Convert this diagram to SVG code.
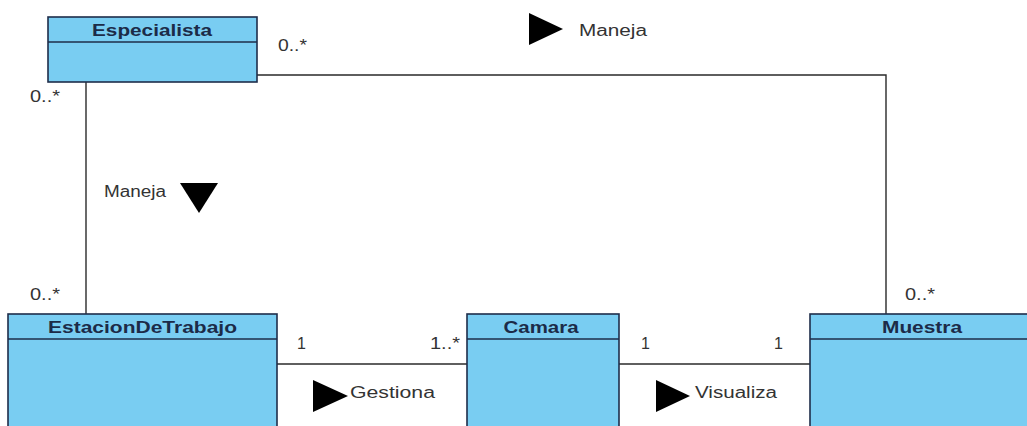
<svg xmlns="http://www.w3.org/2000/svg" width="1027" height="426" viewBox="0 0 1027 426">
  <style>
    .box { fill: #79cdf2; stroke: #1e2d4a; stroke-width: 1.6; }
    .div { stroke: #1e2d4a; stroke-width: 1.6; fill: none; }
    .name { font-family: "Liberation Sans", Arial, sans-serif; font-size: 17px; font-weight: bold; fill: #1c2b48; text-anchor: middle; }
    .lbl { font-family: "Liberation Sans", Arial, sans-serif; font-size: 16px; fill: #333333; }
    .conn { stroke: #2a2a2a; stroke-width: 1.4; fill: none; }
    .dir { fill: #000000; }
  </style>
  <rect width="1027" height="426" fill="#ffffff"/>

  <!-- associations -->
  <g id="connectors">
    <polyline class="conn" points="257,75 886,75 886,314"/>
    <line class="conn" x1="86" y1="82" x2="86" y2="314"/>
    <line class="conn" x1="277" y1="364" x2="467" y2="364"/>
    <line class="conn" x1="619" y1="364" x2="810" y2="364"/>

    <!-- Especialista - Muestra -->
    <text class="lbl" x="278" y="51" textLength="29" lengthAdjust="spacingAndGlyphs">0..*</text>
    <text class="lbl" x="905" y="300" textLength="30" lengthAdjust="spacingAndGlyphs">0..*</text>
    <polygon class="dir" points="529,13 563,29 529,45"/>
    <text class="lbl" x="579" y="36" textLength="68" lengthAdjust="spacingAndGlyphs">Maneja</text>

    <!-- Especialista - EstacionDeTrabajo -->
    <text class="lbl" x="30" y="102" textLength="30" lengthAdjust="spacingAndGlyphs">0..*</text>
    <text class="lbl" x="30" y="300" textLength="30" lengthAdjust="spacingAndGlyphs">0..*</text>
    <text class="lbl" x="104" y="197" textLength="62" lengthAdjust="spacingAndGlyphs">Maneja</text>
    <polygon class="dir" points="180,183 218,183 199,213"/>

    <!-- EstacionDeTrabajo - Camara -->
    <text class="lbl" x="297" y="349">1</text>
    <text class="lbl" x="430" y="349" textLength="30" lengthAdjust="spacingAndGlyphs">1..*</text>
    <polygon class="dir" points="313,380 348,396 313,412"/>
    <text class="lbl" x="350" y="398" textLength="85" lengthAdjust="spacingAndGlyphs">Gestiona</text>

    <!-- Camara - Muestra -->
    <text class="lbl" x="641" y="349">1</text>
    <text class="lbl" x="774" y="349">1</text>
    <polygon class="dir" points="656,380 690,396 656,412"/>
    <text class="lbl" x="695" y="398" textLength="82" lengthAdjust="spacingAndGlyphs">Visualiza</text>
  </g>

  <g id="especialista">
    <rect class="box" x="48" y="17" width="209" height="65"/>
    <line class="div" x1="48" y1="42" x2="257" y2="42"/>
    <text class="name" x="152" y="36" textLength="120" lengthAdjust="spacingAndGlyphs">Especialista</text>
  </g>

  <g id="estacion-de-trabajo">
    <rect class="box" x="8" y="314" width="269" height="130"/>
    <line class="div" x1="8" y1="339" x2="277" y2="339"/>
    <text class="name" x="142.5" y="333" textLength="189" lengthAdjust="spacingAndGlyphs">EstacionDeTrabajo</text>
  </g>

  <g id="camara">
    <rect class="box" x="467" y="314" width="152" height="130"/>
    <line class="div" x1="467" y1="339" x2="619" y2="339"/>
    <text class="name" x="541" y="333" textLength="75" lengthAdjust="spacingAndGlyphs">Camara</text>
  </g>

  <g id="muestra">
    <rect class="box" x="810" y="314" width="224" height="130"/>
    <line class="div" x1="810" y1="339" x2="1034" y2="339"/>
    <text class="name" x="922" y="333" textLength="80" lengthAdjust="spacingAndGlyphs">Muestra</text>
  </g>
</svg>
